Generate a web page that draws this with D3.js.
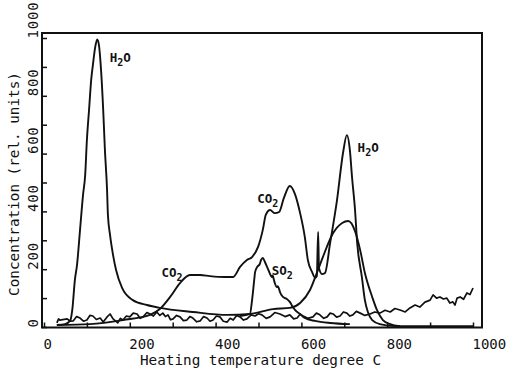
<!DOCTYPE html>
<html>
<head>
<meta charset="utf-8">
<script src="https://cdn.jsdelivr.net/npm/d3@7"></script>
<style>
  html, body { margin: 0; padding: 0; background: #fff; }
  svg { display: block; }
  text { font-family: "DejaVu Sans Mono", "Liberation Mono", monospace; fill: #111; }
</style>
</head>
<body>
<svg id="chart" width="508" height="371"></svg>
<script>
// ---- data (temperature in degree C, concentration in rel. units) ----
const xTickValues = [0, 100, 200, 300, 400, 500, 600, 700, 800, 900, 1000];
const xTickLabels = ["0", "", "200", "", "400", "", "600", "", "800", "", "1000"];
const yTickValues = [0, 100, 200, 300, 400, 500, 600, 700, 800, 900, 1000];
const yTickLabels = ["0", "", "200", "", "400", "", "600", "", "800", "", "1000"];

const h2oSeries = [
  [30,7],[49,10],[61,22],[66,60],[72,163],[77,215],[84,336],[91,457],[96,526],[100,647],
  [105,751],[110,855],[114,907],[119,965],[124,995],[128,976],[133,889],[138,751],[142,612],
  [147,474],[149,388],[154,318],[161,249],[168,197],[182,135],[207,93],[240,76],[270,66],
  [347,52],[427,42],[480,45],[534,62],[573,66],[597,83],[620,128],[636,187],[650,242],
  [674,325],[695,360],[709,367],[725,332],[737,266],[748,187],[765,104],[776,59],[790,24],
  [807,10],[830,3]
];
const co2Series = [
  [30,7],[107,10],[184,24],[247,42],[270,62],[294,104],[317,152],[340,180],[364,180],
  [387,176],[422,173],[441,173],[457,208],[473,232],[485,242],[499,277],[510,336],[517,388],
  [527,405],[538,394],[548,398],[559,446],[573,488],[585,460],[597,394],[608,311],[615,232],
  [625,190],[632,170],[636,176],[639,329],[641,204],[648,183],[655,187],[667,291],[683,439],
  [697,602],[706,664],[713,612],[718,519],[725,405],[730,291],[741,173],[748,93],[755,52],
  [765,24],[783,10],[818,3],[1000,3]
];
const so2Series = [
  [457,38],[480,45],[485,93],[490,163],[492,190],[497,208],[503,218],[506,232],[510,239],
  [515,225],[520,208],[524,194],[527,183],[531,173],[533,178],[536,163],[538,152],[543,138],
  [545,141],[548,131],[550,121],[557,104],[562,100],[566,97],[573,87],[580,69],[585,59],
  [597,45],[608,31],[632,21],[667,14],[713,10]
];
const baselineSeries = [
  [30,14],[34,28],[37,24],[54,28],[61,20],[68,21],[76,36],[84,31],[92,20],[100,24],[107,40],
  [114,38],[122,26],[131,31],[138,17],[147,35],[154,45],[161,28],[172,14],[178,30],[184,24],
  [192,38],[200,35],[208,48],[217,45],[224,30],[231,35],[240,50],[247,45],[255,38],[263,52],
  [270,40],[277,48],[283,36],[289,42],[295,25],[301,28],[309,40],[317,35],[325,22],[333,24],
  [340,36],[347,31],[356,18],[364,21],[372,36],[380,31],[387,20],[394,24],[402,38],[410,35],
  [418,20],[427,17],[434,30],[441,24],[449,40],[457,35],[465,24],[473,28],[483,42],[492,38],
  [500,46],[508,42],[518,30],[527,35],[538,50],[550,45],[562,36],[573,42],[582,28],[590,31],
  [597,44],[604,38],[615,30],[627,35],[635,48],[643,42],[652,30],[660,35],[667,48],[674,45],
  [682,34],[690,38],[698,52],[706,48],[713,38],[720,42],[728,54],[737,48],[748,40],[760,45],
  [771,52],[783,48],[795,58],[807,52],[818,64],[830,59],[842,52],[853,66],[865,76],[876,69],
  [888,86],[900,93],[907,111],[915,100],[923,104],[931,97],[939,100],[946,83],[953,87],
  [958,76],[963,100],[970,104],[978,96],[986,118],[993,112],[1000,135]
];
// peak labels: [main text, subscript, trailing text, temperature, concentration]
const peakLabels = [
  ["H", "2", "O", 153, 918],
  ["H", "2", "O", 731, 606],
  ["CO", "", "2", 497, 429],
  ["CO", "", "2", 274, 173],
  ["SO", "", "2", 531, 180]
];

// ---- layout ----
const svg = d3.select("#chart");
const x = d3.scaleLinear().domain([0, 1000]).range([44, 473]);
const y = d3.scaleLinear().domain([0, 1000]).range([327, 38]);
const frame = { left: 42, right: 482, top: 33, bottom: 327.5 };
const ink = "#111";

// frame
svg.append("rect")
  .attr("x", frame.left).attr("y", frame.top)
  .attr("width", frame.right - frame.left).attr("height", frame.bottom - frame.top)
  .attr("fill", "none").attr("stroke", ink).attr("stroke-width", 2);

// x axis
const gx = svg.append("g").attr("transform", `translate(0,${frame.bottom})`)
  .call(d3.axisBottom(x).tickValues(xTickValues).tickSize(-5).tickSizeOuter(0)
    .tickFormat((d, i) => xTickLabels[i]));
gx.select(".domain").remove();
gx.selectAll(".tick line").attr("stroke", ink).attr("stroke-width", 1.5);
gx.selectAll(".tick text")
  .attr("text-anchor", "start").attr("y", 21).attr("dy", 0).attr("x", -1)
  .style("font-size", "14px").attr("fill", ink);

// y axis
const gy = svg.append("g").attr("transform", `translate(${frame.left},0)`)
  .call(d3.axisLeft(y).tickValues(yTickValues).tickSize(-5).tickSizeOuter(0)
    .tickFormat((d, i) => yTickLabels[i]));
gy.select(".domain").remove();
gy.selectAll(".tick line").attr("stroke", ink).attr("stroke-width", 1.5);
gy.selectAll(".tick text")
  .attr("text-anchor", "start").attr("x", null).attr("dy", 0)
  .attr("transform", "translate(-4,0) rotate(-90)")
  .style("font-size", "14px").style("letter-spacing", "0.8px").attr("fill", ink);

// titles
svg.append("text")
  .attr("x", 260.5).attr("y", 365).attr("text-anchor", "middle")
  .style("font-size", "14.3px")
  .text("Heating temperature degree C");
svg.append("text")
  .attr("transform", "translate(19,184) rotate(-90)").attr("text-anchor", "middle")
  .style("font-size", "14.3px")
  .text("Concentration (rel. units)");

// curves
const smooth = d3.line().x(d => x(d[0])).y(d => y(d[1])).curve(d3.curveMonotoneX);
const jagged = d3.line().x(d => x(d[0])).y(d => y(d[1]));
[h2oSeries, co2Series, so2Series].forEach(s => {
  svg.append("path").datum(s).attr("d", smooth)
    .attr("fill", "none").attr("stroke", ink).attr("stroke-width", 1.9)
    .attr("stroke-linejoin", "round");
});
svg.append("path").datum(baselineSeries).attr("d", jagged)
  .attr("fill", "none").attr("stroke", ink).attr("stroke-width", 1.7)
  .attr("stroke-linejoin", "round");

// peak labels
peakLabels.forEach(([a, sub, b, tx, cy]) => {
  const t = svg.append("text").attr("x", x(tx)).attr("y", y(cy))
    .style("font-size", "12.5px").style("font-weight", "bold");
  if (sub) {
    t.append("tspan").text(a);
    t.append("tspan").text(sub).attr("dy", 4).style("font-size", "10px");
    t.append("tspan").text(b).attr("dy", -4);
  } else {
    t.append("tspan").text(a);
    t.append("tspan").text(b).attr("dy", 4).style("font-size", "10px");
  }
});
</script>
</body>
</html>
